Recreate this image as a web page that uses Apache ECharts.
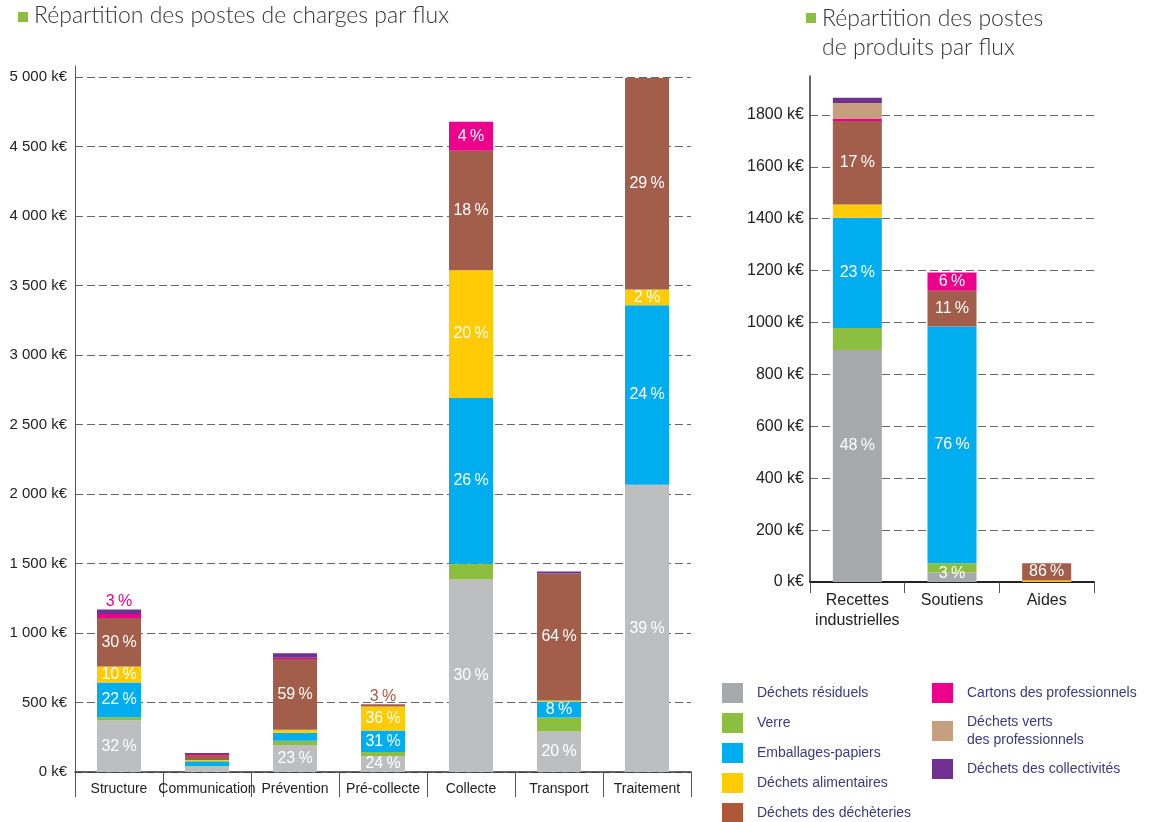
<!DOCTYPE html>
<html>
<head>
<meta charset="utf-8">
<script src="https://cdn.jsdelivr.net/npm/echarts@6/dist/echarts.min.js"></script>
<style>
  html, body { margin: 0; padding: 0; background: #fff; }
  #main { width: 1149px; height: 822px; }
</style>
</head>
<body>
<div id="main"></div>
<script>
// categories
const chargesCats = ['Structure', 'Communication', 'Prévention', 'Pré-collecte', 'Collecte', 'Transport', 'Traitement'];
const produitsCats = ['Recettes\nindustrielles', 'Soutiens', 'Aides'];

// charges (k€) by flux
const residuelsCh    = [372, 40, 194, 115, 1386, 291, 2067];
const verreCh        = [22, 3, 31, 29, 113, 102, 0];
const emballagesCh   = [250, 34, 58, 155, 1193, 115, 1291];
const alimentairesCh = [115, 9, 21, 173, 918, 7, 113];
const decheteriesCh  = [350, 36, 509, 15, 861, 914, 1523];
const cartonsCh      = [28, 7, 9, 0, 207, 0, 0];
const collectivitesCh = [33, 8, 32, 0, 0, 14, 0];

// percentage labels on the charges bars
const residuelsChPct    = ['32 %', '', '23 %', '24 %', '30 %', '20 %', '39 %'];
const emballagesChPct   = ['22 %', '', '', '31 %', '26 %', '8 %', '24 %'];
const alimentairesChPct = ['10 %', '', '', '36 %', '20 %', '', '2 %'];
const decheteriesChPct  = ['30 %', '', '59 %', '', '18 %', '64 %', '29 %'];
const cartonsChPct      = ['', '', '', '', '4 %', '', ''];
const topChPct          = ['3 %', '', '', '3 %', '', '', ''];

// produits (k€) by flux
const residuelsPr    = [894, 37, 0];
const verrePr        = [85, 35, 0];
const emballagesPr   = [425, 913, 0];
const alimentairesPr = [51, 0, 6];
const decheteriesPr  = [322, 137, 66];
const cartonsPr      = [9, 71, 0];
const vertsPr        = [60, 0, 0];
const collectivitesPr = [20, 0, 0];

const residuelsPrPct   = ['48 %', '3 %', ''];
const emballagesPrPct  = ['23 %', '76 %', ''];
const decheteriesPrPct = ['17 %', '11 %', '86 %'];
const cartonsPrPct     = ['', '6 %', ''];

const yTicksCh = [0, 500, 1000, 1500, 2000, 2500, 3000, 3500, 4000, 4500, 5000];

const FONT = '"Liberation Sans", Arial, sans-serif';
const C = {
  gris: '#bdbec0', grisP: '#a7a9ac', verre: '#8cbe3f', emb: '#00aeef', alim: '#ffcb05',
  dech: '#a25e4a', cart: '#ec008c', verts: '#c6a07e', coll: '#70308f'
};

function items(values, labels, offset) {
  return values.map(function (v, i) {
    const t = labels ? labels[i] : '';
    if (!t) return v;
    const lab = { show: true, formatter: t.replace(' ', '\u2009') };
    if (offset && offset[i]) lab.offset = offset[i];
    return { value: v, label: lab };
  });
}

function bar(name, color, values, labels, side, offset) {
  const left = side === 'L';
  return {
    name: name,
    type: 'bar',
    stack: left ? 'ch' : 'pr',
    xAxisIndex: left ? 0 : 1,
    yAxisIndex: left ? 0 : 1,
    barWidth: left ? 44 : 49,
    itemStyle: { color: color },
    label: { show: false, position: 'inside', color: '#fff', fontSize: 16, fontFamily: FONT },
    data: items(values, labels, offset)
  };
}

const topColors = ['#ec008c', '', '', '#b0573a', '', '', ''];
const topSeries = {
  name: 'top',
  type: 'bar',
  stack: 'ch',
  xAxisIndex: 0, yAxisIndex: 0,
  barWidth: 44,
  itemStyle: { color: 'transparent' },
  data: topChPct.map(function (t, i) {
    return { value: 0, label: { show: !!t, position: 'top', distance: 0, formatter: t.replace(' ', '\u2009'), color: topColors[i], fontSize: 16, fontFamily: FONT } };
  })
};

const axisLabelStyle = { color: '#222', fontSize: 15, fontFamily: FONT };

const option = {
  animation: false,
  backgroundColor: '#fff',
  graphic: [
    { type: 'rect', left: 18, top: 12, shape: { width: 10, height: 10 }, style: { fill: '#8cbe3f' } },
    { type: 'text', left: 34, top: 4, style: { text: 'Répartition des postes de charges par flux', fill: '#333', font: '300 23px Lato, sans-serif' } },
    { type: 'rect', left: 806, top: 13, shape: { width: 10, height: 10 }, style: { fill: '#8cbe3f' } },
    { type: 'text', left: 822, top: 4, style: { text: 'Répartition des postes\nde produits par flux', fill: '#333', lineHeight: 29, font: '300 23px Lato, sans-serif' } }
  ],
  legend: [
    {
      orient: 'vertical', left: 722, top: 683, height: 160, padding: 0, itemWidth: 21, itemHeight: 20, itemGap: 10,
      icon: 'rect',
      textStyle: { color: '#3b3a7a', fontSize: 14, fontFamily: FONT, padding: [0, 0, 0, 9] },
      data: [
        { name: 'Déchets résiduels', itemStyle: { color: C.grisP } },
        'Verre', 'Emballages-papiers', 'Déchets alimentaires',
        { name: 'Déchets des déchèteries', itemStyle: { color: '#b0573a' } }
      ]
    },
    {
      orient: 'vertical', left: 932, top: 683, height: 160, padding: 0, itemWidth: 21, itemHeight: 20, itemGap: 10,
      icon: 'rect',
      textStyle: { color: '#3b3a7a', fontSize: 14, fontFamily: FONT, lineHeight: 18, padding: [0, 0, 0, 9] },
      formatter: function (n) { return n === 'Déchets verts des professionnels' ? 'Déchets verts\ndes professionnels' : n; },
      data: ['Cartons des professionnels', 'Déchets verts des professionnels', 'Déchets des collectivités']
    }
  ],
  grid: [
    { left: 75, right: 458, top: 66, bottom: 50 },
    { left: 810, right: 55, top: 76, bottom: 240 }
  ],
  xAxis: [
    {
      type: 'category', gridIndex: 0, data: chargesCats,
      axisLine: { lineStyle: { color: '#333', width: 1.5 } },
      axisTick: { show: true, interval: 0, alignWithLabel: false, length: 25, lineStyle: { color: '#555' } },
      axisLabel: Object.assign({ margin: 10, interval: 0 }, axisLabelStyle, { fontSize: 14 })
    },
    {
      type: 'category', gridIndex: 1, data: produitsCats,
      axisLine: { lineStyle: { color: '#222', width: 2 } },
      axisTick: { show: true, interval: 0, alignWithLabel: false, length: 11, lineStyle: { color: '#555' } },
      axisLabel: Object.assign({ margin: 9, lineHeight: 20, interval: 0 }, axisLabelStyle, { fontSize: 16 })
    }
  ],
  yAxis: [
    {
      type: 'value', gridIndex: 0, min: 0, max: 5080, interval: 500,
      axisLine: { show: true, lineStyle: { color: '#555' } },
      axisTick: { show: false },
      axisLabel: Object.assign({
        margin: 8, showMaxLabel: false,
        formatter: function (v) {
          if (yTicksCh.indexOf(v) < 0) return '';
          return String(v).replace(/\B(?=(\d{3})+(?!\d))/g, ' ') + ' k€';
        }
      }, axisLabelStyle),
      splitLine: { showMaxLine: false, lineStyle: { color: '#666', type: [8, 4] } }
    },
    {
      type: 'value', gridIndex: 1, min: 0, max: 1950, interval: 200,
      axisLine: { show: true, lineStyle: { color: '#333', width: 1.5 } },
      axisTick: { show: false },
      axisLabel: Object.assign({
        margin: 6, showMaxLabel: false,
        formatter: function (v) { return v % 200 === 0 ? v + ' k€' : ''; }
      }, axisLabelStyle, { fontSize: 16 }),
      splitLine: { showMaxLine: false, showMinLine: false, lineStyle: { color: '#666', type: [8, 4] } }
    }
  ],
  series: [
    bar('Déchets résiduels', C.gris, residuelsCh, residuelsChPct, 'L'),
    bar('Verre', C.verre, verreCh, null, 'L'),
    bar('Emballages-papiers', C.emb, emballagesCh, emballagesChPct, 'L'),
    bar('Déchets alimentaires', C.alim, alimentairesCh, alimentairesChPct, 'L'),
    bar('Déchets des déchèteries', C.dech, decheteriesCh, decheteriesChPct, 'L'),
    bar('Cartons des professionnels', C.cart, cartonsCh, cartonsChPct, 'L'),
    bar('Déchets des collectivités', C.coll, collectivitesCh, null, 'L'),
    topSeries,

    bar('Déchets résiduels', C.grisP, residuelsPr, residuelsPrPct, 'R', [[0, -20], [0, -4], null]),
    bar('Verre', C.verre, verrePr, null, 'R'),
    bar('Emballages-papiers', C.emb, emballagesPr, emballagesPrPct, 'R'),
    bar('Déchets alimentaires', C.alim, alimentairesPr, null, 'R'),
    bar('Déchets des déchèteries', C.dech, decheteriesPr, decheteriesPrPct, 'R'),
    bar('Cartons des professionnels', C.cart, cartonsPr, cartonsPrPct, 'R'),
    bar('Déchets verts des professionnels', C.verts, vertsPr, null, 'R'),
    bar('Déchets des collectivités', C.coll, collectivitesPr, null, 'R')
  ]
};

const myChart = echarts.init(document.getElementById('main'));
myChart.setOption(option);
</script>
</body>
</html>
